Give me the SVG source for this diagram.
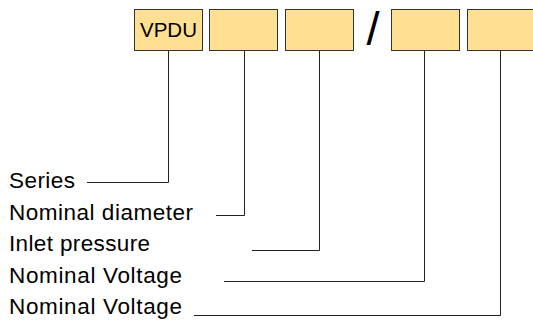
<svg xmlns="http://www.w3.org/2000/svg" width="533" height="326" viewBox="0 0 533 326">
<style>
.box{fill:#FFDF91;stroke:#333;stroke-width:1}
.t{font-family:"Liberation Sans",Arial,sans-serif;font-size:22.5px;fill:#000}
.v{font-size:20.5px}
.c{fill:none;stroke:#222;stroke-width:1}
</style>
<rect width="533" height="326" fill="#fff"/>
<g id="box1"><rect class="box" x="134.5" y="9.5" width="68" height="41"/><text class="t v" x="168.5" y="36.5" text-anchor="middle">VPDU</text></g>
<g id="box2"><rect class="box" x="209.5" y="9.5" width="68" height="41"/></g>
<g id="box3"><rect class="box" x="285.5" y="9.5" width="68" height="41"/></g>
<g id="slash"><text class="t" x="373" y="45" text-anchor="middle" style="font-size:47px">/</text></g>
<g id="box4"><rect class="box" x="391.5" y="9.5" width="68" height="41"/></g>
<g id="box5"><rect class="box" x="467.5" y="9.5" width="68" height="41"/></g>
<g id="labels">
<text class="t" x="9" y="187.5" textLength="66" lengthAdjust="spacing">Series</text>
<text class="t" x="9" y="219.5" textLength="184" lengthAdjust="spacing">Nominal diameter</text>
<text class="t" x="9" y="251" textLength="141" lengthAdjust="spacing">Inlet pressure</text>
<text class="t" x="9" y="282.5" textLength="173" lengthAdjust="spacing">Nominal Voltage</text>
<text class="t" x="9" y="314" textLength="173" lengthAdjust="spacing">Nominal Voltage</text>
</g>
<g id="connectors">
<polyline class="c" points="87,182.5 168.5,182.5 168.5,51"/>
<polyline class="c" points="216,215.5 244.5,215.5 244.5,51"/>
<polyline class="c" points="252,250.5 319.5,250.5 319.5,51"/>
<polyline class="c" points="224,281.5 424.5,281.5 424.5,51"/>
<polyline class="c" points="194,315.5 500.5,315.5 500.5,51"/>
</g>
</svg>
